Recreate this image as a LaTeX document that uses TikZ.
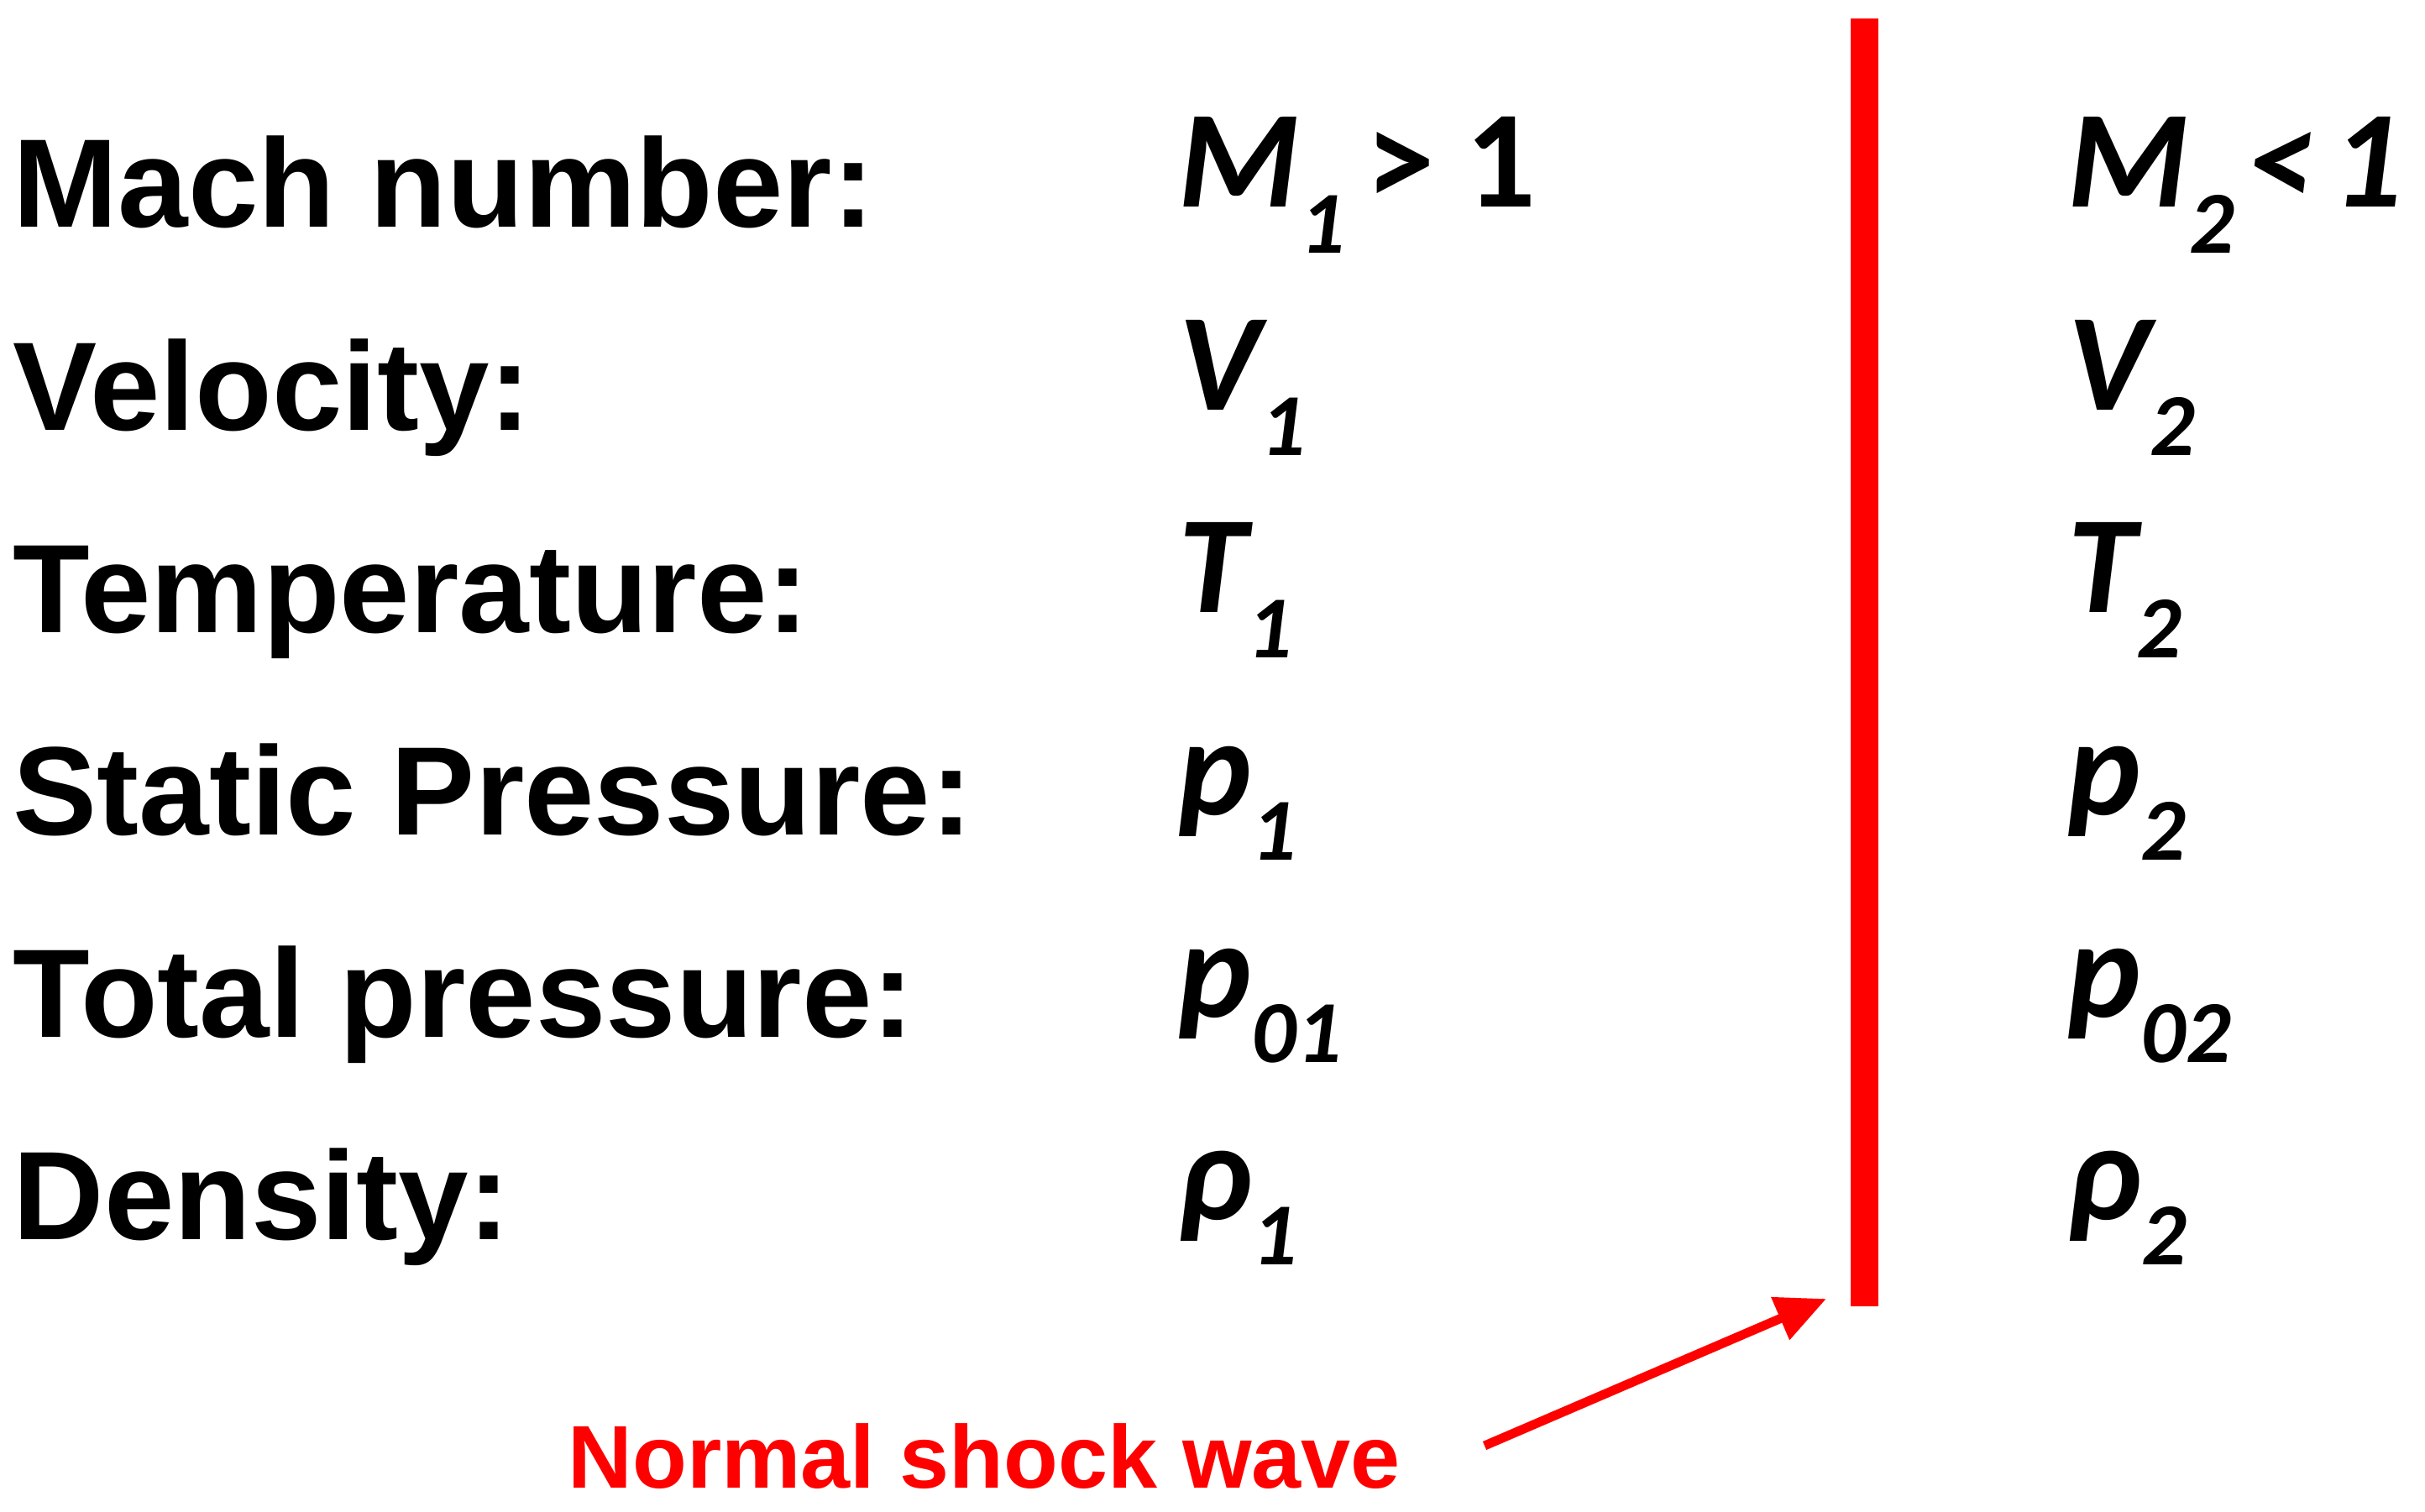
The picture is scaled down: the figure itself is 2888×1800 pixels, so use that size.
\documentclass[tikz,border=0pt]{standalone}
\usepackage{fontspec}
\usetikzlibrary{arrows.meta}
\newfontfamily\labfont{Liberation Sans}
\newfontfamily\valfont{Carlito}
\definecolor{shockred}{RGB}{255,0,0}
\newcommand\lblfont{\labfont\bfseries\fontsize{42.7pt}{50pt}\selectfont}
\newcommand\valuefont{\valfont\bfseries\itshape\fontsize{47pt}{55pt}\selectfont}
\newcommand\sbs[1]{\raisebox{-15.5pt}{\fontsize{30pt}{32pt}\selectfont #1}}
\begin{document}
\begin{tikzpicture}[x=0.1mm,y=-0.1mm,
  rowlabel/.style={anchor=base west, inner sep=0pt, font=\lblfont},
  qty/.style={anchor=base west, inner sep=0pt, font=\valuefont},
  shock/.style={draw=shockred, line width=9.4pt},
  pointer/.style={draw=shockred, line width=3.1pt, -{Triangle[length=17pt,width=15pt]}},
  note/.style={anchor=base west, inner sep=0pt, text=shockred, font=\labfont\bfseries\fontsize{30.2pt}{36pt}\selectfont}]
\useasboundingbox (0,0) rectangle (2888,1800);
% row labels
\node[rowlabel] (l1) at (15,271)  {Mach number:};
\node[rowlabel] (l2) at (15,512)  {Velocity:};
\node[rowlabel] (l3) at (15,753)  {Temperature:};
\node[rowlabel] (l4) at (15,994)  {Static Pressure:};
\node[rowlabel] (l5) at (15,1235) {Total pressure:};
\node[rowlabel] (l6) at (15,1476) {Density:};
% upstream values
\node[qty] (a1) at (1403,247)  {M\sbs{1}\hspace{7pt}{\upshape >} {\upshape 1}};
\node[qty] (a2) at (1403,488)  {V\sbs{1}};
\node[qty] (a3) at (1403,729)  {T\sbs{1}};
\node[qty] (a4) at (1403,970)  {p\sbs{1}};
\node[qty] (a5) at (1403,1211) {p\sbs{01}};
\node[qty] (a6) at (1403,1452) {ρ\sbs{1}};
% downstream values
\node[qty] (b1) at (2462,247)  {M\sbs{2}\hspace{4pt}<\hspace{6pt}1};
\node[qty] (b2) at (2462,488)  {V\sbs{2}};
\node[qty] (b3) at (2462,729)  {T\sbs{2}};
\node[qty] (b4) at (2462,970)  {p\sbs{2}};
\node[qty] (b5) at (2462,1211) {p\sbs{02}};
\node[qty] (b6) at (2462,1452) {ρ\sbs{2}};
% shock wave
\coordinate (stop) at (2220,22);
\coordinate (sbot) at (2220,1556);
\draw[shock] (stop) -- (sbot);
% caption and arrow
\node[note] (cap) at (676,1772) {Normal shock wave};
\coordinate (arrstart) at (1768,1722);
\coordinate (arrtip) at (2175,1547);
\draw[pointer] (arrstart) -- (arrtip);
\end{tikzpicture}
\end{document}
